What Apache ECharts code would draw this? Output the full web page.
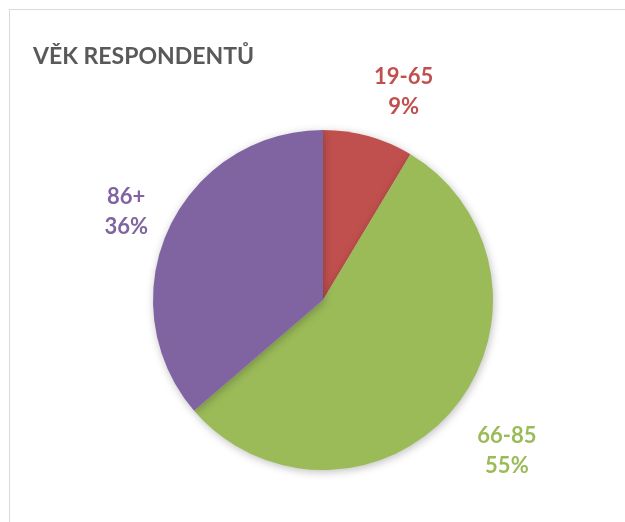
<!DOCTYPE html>
<html>
<head>
<meta charset="utf-8">
<script src="https://cdn.jsdelivr.net/npm/echarts@6/dist/echarts.min.js"></script>
<style>
html,body{margin:0;padding:0;background:#fff;overflow:hidden;}
#frame{position:absolute;left:9px;top:9px;width:700px;height:600px;border:1px solid #d9d9d9;}
#chart{position:absolute;left:0;top:0;width:625px;height:522px;}
</style>
</head>
<body>
<div id="frame"></div>
<div id="chart"></div>
<script>
const chartTitle = 'VĚK RESPONDENTŮ';
const categories = ['19-65', '66-85', '86+'];
const values = [8.6, 55.1, 36.3];
const colors = ['#C0504D', '#9BBB59', '#8064A2'];
const labelLineLengths = [46, 64, 41];
const labelLineLengths2 = [18, 0, 0];

const chart = echarts.init(document.getElementById('chart'), null, {renderer: 'canvas'});
const data = categories.map((c, i) => ({
  name: c,
  value: values[i],
  itemStyle: {color: colors[i]},
  label: {color: colors[i]},
  labelLine: {length: labelLineLengths[i], length2: labelLineLengths2[i]}
}));
chart.setOption({
  backgroundColor: 'transparent',
  animation: false,
  title: {
    text: chartTitle,
    left: 28,
    top: 40,
    textStyle: {fontFamily: 'Lato', fontWeight: 'bold', fontSize: 23, color: '#595959'}
  },
  series: [{
    type: 'pie',
    center: [323, 300],
    radius: 170,
    startAngle: 90,
    clockwise: true,
    percentPrecision: 0,
    avoidLabelOverlap: false,
    data: data,
    itemStyle: {
      shadowBlur: 8,
      shadowColor: 'rgba(0,0,0,0.25)',
      shadowOffsetY: 2,
      shadowOffsetX: 1
    },
    label: {
      show: true,
      position: 'outside',
      formatter: '{b}\n{d}%',
      fontFamily: 'Lato',
      fontWeight: 'bold',
      fontSize: 22,
      lineHeight: 30
    },
    labelLine: {show: false},
    labelLayout: function () {
      return {align: 'center', verticalAlign: 'middle'};
    },
    emphasis: {disabled: true}
  }]
});
</script>
</body>
</html>
